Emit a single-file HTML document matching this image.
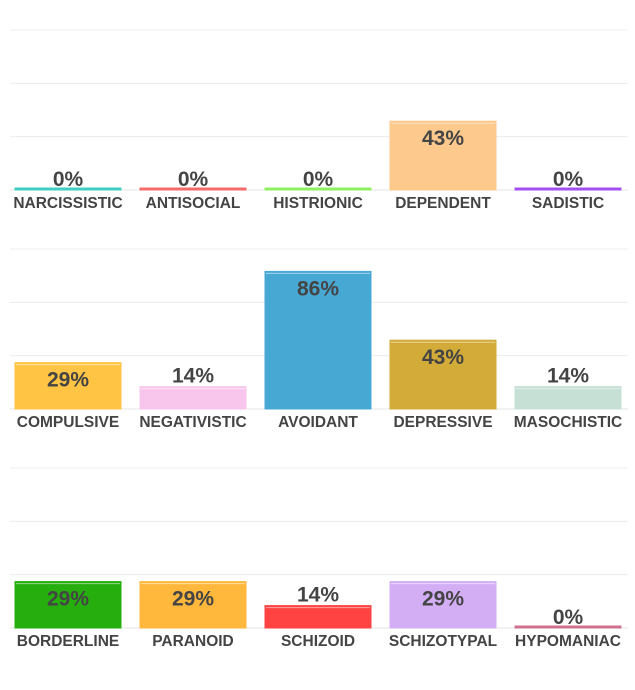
<!DOCTYPE html>
<html><head><meta charset="utf-8">
<style>
body{margin:0;background:#fff;width:635px;height:690px;overflow:hidden}
svg{display:block}
text{font-family:"Liberation Sans",sans-serif;font-weight:bold;fill:#444}
</style></head>
<body>
<svg id="chart" width="635" height="690" xmlns="http://www.w3.org/2000/svg"></svg>
<script>
const categories=[
 ["NARCISSISTIC","ANTISOCIAL","HISTRIONIC","DEPENDENT","SADISTIC"],
 ["COMPULSIVE","NEGATIVISTIC","AVOIDANT","DEPRESSIVE","MASOCHISTIC"],
 ["BORDERLINE","PARANOID","SCHIZOID","SCHIZOTYPAL","HYPOMANIAC"]
];
const values=[
 [0,0,0,43,0],
 [29,14,86,43,14],
 [29,29,14,29,0]
];
const colors=[
 ["#3fcfc2","#f56a6a","#8ef060","#fdc98c","#a24ff0"],
 ["#ffc443","#f8c6ec","#48a8d4","#d3ab38","#c6e0d6"],
 ["#26ae0e","#ffb83c","#ff4242","#d3aef5","#d0708e"]
];
const NS="http://www.w3.org/2000/svg";
const svg=document.getElementById('chart');
const baselines=[190,409,628];
const PX=160; // pixels per 100%
const colX=[15,140,265,390,515], barW=106;
function y(row,v){return baselines[row]-v/100*PX;}
function mk(tag,attrs){const e=document.createElementNS(NS,tag);for(const k in attrs)e.setAttribute(k,attrs[k]);svg.appendChild(e);return e;}
for(let r=0;r<3;r++){
  for(const g of [0,33.33,66.67,100]){
    const l=mk('line',{x1:10,x2:628,y1:y(r,g),y2:y(r,g),stroke:g===0?'#e6e6e6':'#ececec','stroke-width':1});
    
    
  }
  for(let i=0;i<5;i++){
    const v=values[r][i];
    const top=y(r,v);
    const h=Math.max(2,baselines[r]-top);
    const b=mk('rect',{x:colX[i],y:baselines[r]-h,width:barW,height:h,fill:colors[r][i],stroke:colors[r][i],'stroke-width':1});
    
    
    if(h>4){
      const hl=mk('line',{x1:colX[i]+1,x2:colX[i]+barW-1,y1:baselines[r]-h+2,y2:baselines[r]-h+2,stroke:'rgba(255,255,255,0.5)','stroke-width':1});
      
      
    }
    const inside=h>35;
    const ty=inside? (top+24) : (top-4);
    const t=mk('text',{x:colX[i]+barW/2,y:ty,'text-anchor':'middle','font-size':21});
    t.textContent=v+'%';
    
    
    const c=mk('text',{x:colX[i]+barW/2,y:baselines[r]+18,'text-anchor':'middle','font-size':15.5});
    c.textContent=categories[r][i];
    
    
  }
}
</script>
</body></html>
